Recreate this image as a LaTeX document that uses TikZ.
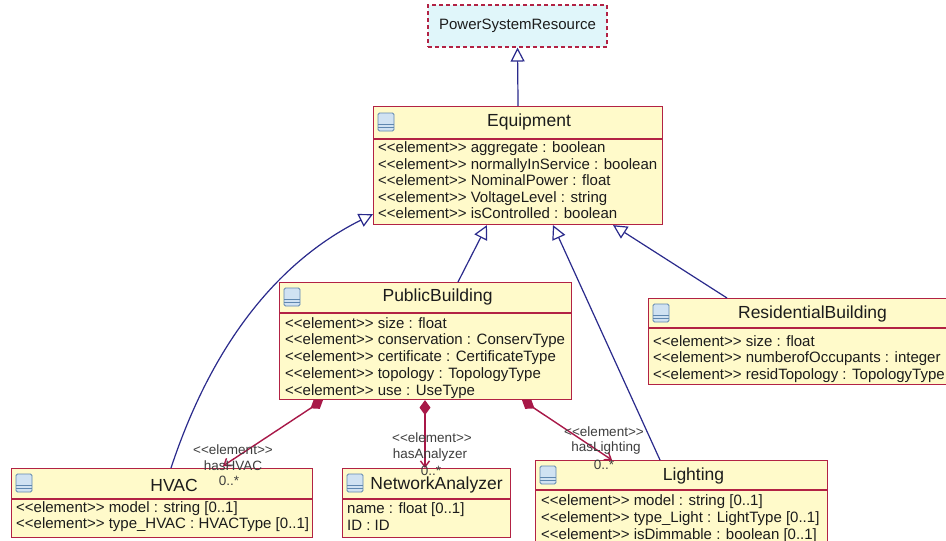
\documentclass[tikz,border=0pt]{standalone}
\usepackage{fontspec}
\setmainfont{Liberation Sans}[Ligatures=TeXOff]
\usetikzlibrary{arrows.meta,calc}

\definecolor{clsborder}{RGB}{178,34,68}
\definecolor{clsfill}{RGB}{255,250,202}
\definecolor{absfill}{RGB}{224,246,250}
\definecolor{genline}{RGB}{42,42,140}
\definecolor{compline}{RGB}{168,24,72}
\definecolor{iconline}{RGB}{95,135,175}
\definecolor{iconfill}{RGB}{208,226,242}
\definecolor{ink}{RGB}{28,28,28}

\tikzset{
  cls/.style={draw=clsborder, fill=clsfill, line width=1.1pt, inner sep=0pt, anchor=north west},
  abscls/.style={draw=clsborder, fill=absfill, line width=1.1pt, dashed, dash pattern=on 4pt off 3pt,
                 inner sep=0pt, font=\fontsize{15}{18}\selectfont, text=ink},
  divider/.style={draw=clsborder, line width=1.1pt},
  title/.style={inner sep=0pt, font=\fontsize{17.5}{20}\selectfont, text=ink},
  attr/.style={inner sep=0pt, anchor=base west, font=\fontsize{15}{18}\selectfont, text=ink},
  lbl/.style={inner sep=0pt, font=\fontsize{13.5}{16}\selectfont, text=ink!85},
  gen/.style={draw=genline, line width=1.2pt,
              -{Triangle[open, length=14pt, width=14pt, fill=white]}},
  comp/.style={draw=compline, line width=1.4pt,
               {Diamond[length=15pt, width=11pt, fill=compline]}-{Straight Barb[length=6pt, width=9pt]}},
  % class-kind glyph; y grows downwards in this picture
  clsicon/.pic={
    \draw[iconline, fill=iconfill, line width=0.9pt, rounded corners=1.5pt] (0,0) rectangle (16,18);
    \draw[iconline, line width=0.9pt] (0,11) -- (16,11) (0,14.5) -- (16,14.5);
  }
}

\begin{document}
\begin{tikzpicture}[x=1pt, y=-1pt]
\clip (0,0) rectangle (946,541);
\fill[white] (0,0) rectangle (946,541);

% ---------- abstract root ----------
\node[abscls, minimum width=179pt, minimum height=42pt] (psr) at (517.5,26) {PowerSystemResource};

% ---------- class boxes ----------
\node[cls, minimum width=289pt, minimum height=118pt] (eq) at (373,106) {};
\node[cls, minimum width=292pt, minimum height=117pt] (pb) at (279,282) {};
\node[cls, minimum width=304pt, minimum height=86pt]  (rb) at (648,298) {};
\node[cls, minimum width=301pt, minimum height=69pt]  (hv) at (11,468) {};
\node[cls, minimum width=168pt, minimum height=69pt]  (na) at (342,468) {};
\node[cls, minimum width=292pt, minimum height=90pt]  (li) at (535,460) {};

% header dividers
\draw[divider] ($(eq.north west)+(0,33)$) -- ($(eq.north east)+(0,33)$);
\draw[divider] ($(pb.north west)+(0,31)$) -- ($(pb.north east)+(0,31)$);
\draw[divider] ($(rb.north west)+(0,30)$) -- ($(rb.north east)+(0,30)$);
\draw[divider] ($(hv.north west)+(0,31)$) -- ($(hv.north east)+(0,31)$);
\draw[divider] ($(na.north west)+(0,31)$) -- ($(na.north east)+(0,31)$);
\draw[divider] ($(li.north west)+(0,30)$) -- ($(li.north east)+(0,30)$);

% class icons
\pic at ($(eq.north west)+(5,7)$) {clsicon};
\pic at ($(pb.north west)+(5,6)$) {clsicon};
\pic at ($(rb.north west)+(5,6)$) {clsicon};
\pic at ($(hv.north west)+(5,6)$) {clsicon};
\pic at ($(na.north west)+(5,6)$) {clsicon};
\pic at ($(li.north west)+(5,6)$) {clsicon};

% titles
\node[title] (eq-t) at ($(eq.north)+(11,15.5)$) {Equipment};
\node[title] (pb-t) at ($(pb.north)+(12,15)$) {PublicBuilding};
\node[title] (rb-t) at ($(rb.north)+(12,16)$) {ResidentialBuilding};
\node[title] (hv-t) at ($(hv.north)+(12,17)$) {HVAC};
\node[title] (na-t) at ($(na.north)+(10,17)$) {NetworkAnalyzer};
\node[title] (li-t) at ($(li.north)+(12,16)$) {Lighting};

% attributes
\foreach \txt [count=\i] in {
  {<<element>> aggregate : boolean},
  {<<element>> normallyInService : boolean},
  {<<element>> NominalPower : float},
  {<<element>> VoltageLevel : string},
  {<<element>> isControlled : boolean}}
  \node[attr] (eq-a\i) at ($(eq.north west)+(5,{46.5+16.6*(\i-1)})$) {\txt};

\foreach \txt [count=\i] in {
  {<<element>> size : float},
  {<<element>> conservation : ConservType},
  {<<element>> certificate : CertificateType},
  {<<element>> topology : TopologyType},
  {<<element>> use : UseType}}
  \node[attr] (pb-a\i) at ($(pb.north west)+(6,{46+16.8*(\i-1)})$) {\txt};

\foreach \txt [count=\i] in {
  {<<element>> size : float},
  {<<element>> numberofOccupants : integer},
  {<<element>> residTopology : TopologyType}}
  \node[attr] (rb-a\i) at ($(rb.north west)+(5,{48+16.5*(\i-1)})$) {\txt};

\foreach \txt [count=\i] in {
  {<<element>> model : string [0..1]},
  {<<element>> type\_HVAC : HVACType [0..1]}}
  \node[attr] (hv-a\i) at ($(hv.north west)+(5,{44.5+16*(\i-1)})$) {\txt};

\foreach \txt [count=\i] in {
  {name : float [0..1]},
  {ID : ID}}
  \node[attr] (na-a\i) at ($(na.north west)+(5,{45+17*(\i-1)})$) {\txt};

\foreach \txt [count=\i] in {
  {<<element>> model : string [0..1]},
  {<<element>> type\_Light : LightType [0..1]},
  {<<element>> isDimmable : boolean [0..1]}}
  \node[attr] (li-a\i) at ($(li.north west)+(6,{45+17.2*(\i-1)})$) {\txt};

% ---------- generalizations ----------
\draw[gen] (eq.north) -- (psr.south);
\draw[gen] ($(pb.north west)+(179,0)$) -- ($(eq.south west)+(114,0)$);
\draw[gen] ($(li.north west)+(125,0)$) -- ($(eq.south west)+(180,0)$);
\draw[gen] ($(rb.north west)+(79,0)$) -- ($(eq.south west)+(240,0)$);
\draw[gen] ($(hv.north west)+(160,0)$) .. controls (216,332) and (287,257) .. ($(eq.south west)+(0,-11)$);

% ---------- compositions ----------
\draw[comp] ($(pb.south west)+(44,0)$) -- ($(hv.north west)+(212,-2)$);
\draw[comp] ($(pb.south west)+(146,0)$) -- ($(na.north west)+(83,0)$);
\draw[comp] ($(pb.south west)+(243,0)$) -- ($(li.north west)+(77,0)$);

% association labels
\node[lbl] (hv-s) at (233,450) {<<element>>};
\node[lbl] (hv-r) at (233,466) {hasHVAC};
\node[lbl] (hv-m) at (229,481) {0..*};
\node[lbl] (na-s) at (432,438) {<<element>>};
\node[lbl] (na-r) at (430,455) {hasAnalyzer};
\node[lbl] (na-m) at (431,471) {0..*};
\node[lbl] (li-s) at (604,432) {<<element>>};
\node[lbl] (li-r) at (606,448) {hasLighting};
\node[lbl] (li-m) at (604,465) {0..*};
\end{tikzpicture}
\end{document}
